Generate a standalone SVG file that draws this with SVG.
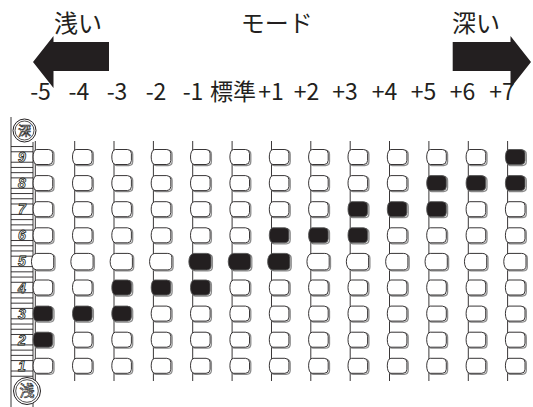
<svg xmlns="http://www.w3.org/2000/svg" width="533" height="407" viewBox="0 0 533 407">
<style>
.sh{fill:none;stroke:#8c8c8c;stroke-width:1.3}
.ow{fill:#fff;stroke:#231f20;stroke-width:0.9}
.fb{fill:#231f20;stroke:#555;stroke-width:0.9}
.vl{stroke:#231f20;stroke-width:0.9}
.hd{font-family:"Noto Sans CJK JP",sans-serif;font-size:24px;fill:#231f20}
.lb{font-family:"Noto Sans CJK JP",sans-serif;font-size:23px;fill:#231f20;text-anchor:middle}
.num{font-family:"Liberation Sans",sans-serif;font-style:italic;font-weight:bold;font-size:14px;fill:#fff;stroke:#231f20;stroke-width:0.8;text-anchor:middle}
.ck{font-family:"Noto Sans CJK JP",sans-serif;fill:#fff;stroke:#333;stroke-width:0.7;text-anchor:middle}
.rl{stroke:#231f20;stroke-width:0.9;fill:none}
.arw{fill:#231f20}
</style>
<defs>
<path id="pp" d="M4,0H16Q20,0 20,4V11Q20,15 16,15H4C-0.8,15 -0.8,0 4,0Z"/>
<path id="ppW" d="M4,-0.5H16.5Q21,-0.5 21,3.5V12Q21,16 16.5,16H4C-3,16 -3,-0.5 4,-0.5Z"/>
<g id="o"><use href="#pp" class="sh" x="1.3" y="1"/><use href="#pp" class="ow"/></g>
<g id="f"><use href="#pp" class="sh" x="1.3" y="1"/><use href="#pp" class="fb"/></g>
<g id="oW"><use href="#ppW" class="sh" x="1.3" y="1"/><use href="#ppW" class="ow"/></g>
<g id="fW"><use href="#ppW" class="sh" x="1.3" y="1"/><use href="#ppW" class="fb"/></g>
</defs>
<rect width="533" height="407" fill="#fff"/>

<g id="header">
<text class="hd" x="54" y="32">浅い</text>
<text class="hd" x="240.7" y="32">モード</text>
<text class="hd" x="452" y="32">深い</text>
<polygon class="arw" points="33,62 53.5,36 53.5,42 109,42 109,71 53.5,71 53.5,88"/>
<polygon class="arw" points="531,62 510.5,36 510.5,42 452.7,42 452.7,71 510.5,71 510.5,88"/>
</g>

<g id="labels">
<text class="lb" x="40.5" y="100">-5</text>
<text class="lb" x="78.8" y="100">-4</text>
<text class="lb" x="117" y="100">-3</text>
<text class="lb" x="156" y="100">-2</text>
<text class="lb" x="193" y="100">-1</text>
<text class="lb" x="233" y="100">標準</text>
<text class="lb" x="271" y="100">+1</text>
<text class="lb" x="306.5" y="100">+2</text>
<text class="lb" x="345" y="100">+3</text>
<text class="lb" x="384.5" y="100">+4</text>
<text class="lb" x="423.6" y="100">+5</text>
<text class="lb" x="462.5" y="100">+6</text>
<text class="lb" x="502" y="100">+7</text>
</g>

<g id="scale">
<line class="rl" x1="11" y1="117" x2="11" y2="407"/>
<line class="rl" x1="33" y1="142" x2="33" y2="407"/>
<path class="rl" d="M11,146.56H33M11,151.78H33M11,162.22H33M11,167.44H33M11,172.66H33M11,177.88H33M11,188.32H33M11,193.54H33M11,198.76H33M11,203.98H33M11,214.42H33M11,219.64H33M11,224.86H33M11,230.08H33M11,240.52H33M11,245.74H33M11,250.96H33M11,256.18H33M11,266.62H33M11,271.84H33M11,277.06H33M11,282.28H33M11,292.72H33M11,297.94H33M11,303.16H33M11,308.38H33M11,318.82H33M11,324.04H33M11,329.26H33M11,334.48H33M11,344.92H33M11,350.14H33M11,355.36H33M11,360.58H33M11,371.02H33M11,376.24H33"/>
<text class="num" x="22" y="162">9</text>
<text class="num" x="22" y="188.1">8</text>
<text class="num" x="22" y="214.2">7</text>
<text class="num" x="22" y="240.3">6</text>
<text class="num" x="22" y="266.4">5</text>
<text class="num" x="22" y="292.5">4</text>
<text class="num" x="22" y="318.6">3</text>
<text class="num" x="22" y="344.7">2</text>
<text class="num" x="22" y="370.8">1</text>
<circle cx="24.5" cy="130.5" r="11.5" fill="#fff" stroke="#231f20" stroke-width="1"/>
<circle cx="24.5" cy="130.5" r="9.5" fill="none" stroke="#231f20" stroke-width="0.8"/>
<text class="ck" x="24.5" y="135.2" font-size="13">深</text>
<circle cx="27" cy="391" r="13.5" fill="#fff" stroke="#231f20" stroke-width="1"/>
<circle cx="27" cy="391" r="11.3" fill="none" stroke="#231f20" stroke-width="0.8"/>
<text class="ck" x="27" y="396.3" font-size="15">浅</text>
</g>

<g id="col-m5" transform="translate(32.7,0)">
<line class="vl" x1="2.6" y1="141" x2="2.6" y2="381"/>
<use href="#o" y="149.5"/><use href="#o" y="175.6"/><use href="#o" y="201.7"/><use href="#o" y="227.8"/><use href="#oW" y="253.9"/><use href="#o" y="280"/><use href="#f" y="306.1"/><use href="#f" y="332.2"/><use href="#o" y="358.3"/>
</g>
<g id="col-m4" transform="translate(72.1,0)">
<line class="vl" x1="2.6" y1="141" x2="2.6" y2="381"/>
<use href="#o" y="149.5"/><use href="#o" y="175.6"/><use href="#o" y="201.7"/><use href="#o" y="227.8"/><use href="#oW" y="253.9"/><use href="#o" y="280"/><use href="#f" y="306.1"/><use href="#o" y="332.2"/><use href="#o" y="358.3"/>
</g>
<g id="col-m3" transform="translate(111.4,0)">
<line class="vl" x1="2.6" y1="141" x2="2.6" y2="381"/>
<use href="#o" y="149.5"/><use href="#o" y="175.6"/><use href="#o" y="201.7"/><use href="#o" y="227.8"/><use href="#oW" y="253.9"/><use href="#f" y="280"/><use href="#f" y="306.1"/><use href="#o" y="332.2"/><use href="#o" y="358.3"/>
</g>
<g id="col-m2" transform="translate(150.8,0)">
<line class="vl" x1="2.6" y1="141" x2="2.6" y2="381"/>
<use href="#o" y="149.5"/><use href="#o" y="175.6"/><use href="#o" y="201.7"/><use href="#o" y="227.8"/><use href="#oW" y="253.9"/><use href="#f" y="280"/><use href="#o" y="306.1"/><use href="#o" y="332.2"/><use href="#o" y="358.3"/>
</g>
<g id="col-m1" transform="translate(190.1,0)">
<line class="vl" x1="2.6" y1="141" x2="2.6" y2="381"/>
<use href="#o" y="149.5"/><use href="#o" y="175.6"/><use href="#o" y="201.7"/><use href="#o" y="227.8"/><use href="#fW" y="253.9"/><use href="#f" y="280"/><use href="#o" y="306.1"/><use href="#o" y="332.2"/><use href="#o" y="358.3"/>
</g>
<g id="col-std" transform="translate(229.5,0)">
<line class="vl" x1="2.6" y1="141" x2="2.6" y2="381"/>
<use href="#o" y="149.5"/><use href="#o" y="175.6"/><use href="#o" y="201.7"/><use href="#o" y="227.8"/><use href="#fW" y="253.9"/><use href="#o" y="280"/><use href="#o" y="306.1"/><use href="#o" y="332.2"/><use href="#o" y="358.3"/>
</g>
<g id="col-p1" transform="translate(268.9,0)">
<line class="vl" x1="2.6" y1="141" x2="2.6" y2="381"/>
<use href="#o" y="149.5"/><use href="#o" y="175.6"/><use href="#o" y="201.7"/><use href="#f" y="227.8"/><use href="#fW" y="253.9"/><use href="#o" y="280"/><use href="#o" y="306.1"/><use href="#o" y="332.2"/><use href="#o" y="358.3"/>
</g>
<g id="col-p2" transform="translate(308.2,0)">
<line class="vl" x1="2.6" y1="141" x2="2.6" y2="381"/>
<use href="#o" y="149.5"/><use href="#o" y="175.6"/><use href="#o" y="201.7"/><use href="#f" y="227.8"/><use href="#oW" y="253.9"/><use href="#o" y="280"/><use href="#o" y="306.1"/><use href="#o" y="332.2"/><use href="#o" y="358.3"/>
</g>
<g id="col-p3" transform="translate(347.6,0)">
<line class="vl" x1="2.6" y1="141" x2="2.6" y2="381"/>
<use href="#o" y="149.5"/><use href="#o" y="175.6"/><use href="#f" y="201.7"/><use href="#f" y="227.8"/><use href="#oW" y="253.9"/><use href="#o" y="280"/><use href="#o" y="306.1"/><use href="#o" y="332.2"/><use href="#o" y="358.3"/>
</g>
<g id="col-p4" transform="translate(386.9,0)">
<line class="vl" x1="2.6" y1="141" x2="2.6" y2="381"/>
<use href="#o" y="149.5"/><use href="#o" y="175.6"/><use href="#f" y="201.7"/><use href="#o" y="227.8"/><use href="#oW" y="253.9"/><use href="#o" y="280"/><use href="#o" y="306.1"/><use href="#o" y="332.2"/><use href="#o" y="358.3"/>
</g>
<g id="col-p5" transform="translate(426.3,0)">
<line class="vl" x1="2.6" y1="141" x2="2.6" y2="381"/>
<use href="#o" y="149.5"/><use href="#f" y="175.6"/><use href="#f" y="201.7"/><use href="#o" y="227.8"/><use href="#oW" y="253.9"/><use href="#o" y="280"/><use href="#o" y="306.1"/><use href="#o" y="332.2"/><use href="#o" y="358.3"/>
</g>
<g id="col-p6" transform="translate(465.7,0)">
<line class="vl" x1="2.6" y1="141" x2="2.6" y2="381"/>
<use href="#o" y="149.5"/><use href="#f" y="175.6"/><use href="#o" y="201.7"/><use href="#o" y="227.8"/><use href="#oW" y="253.9"/><use href="#o" y="280"/><use href="#o" y="306.1"/><use href="#o" y="332.2"/><use href="#o" y="358.3"/>
</g>
<g id="col-p7" transform="translate(505,0)">
<line class="vl" x1="2.6" y1="141" x2="2.6" y2="381"/>
<use href="#f" y="149.5"/><use href="#f" y="175.6"/><use href="#o" y="201.7"/><use href="#o" y="227.8"/><use href="#oW" y="253.9"/><use href="#o" y="280"/><use href="#o" y="306.1"/><use href="#o" y="332.2"/><use href="#o" y="358.3"/>
</g>
<g id="connectors"/>
</svg>
